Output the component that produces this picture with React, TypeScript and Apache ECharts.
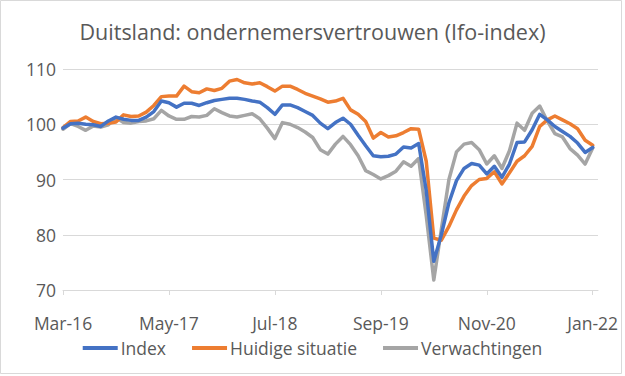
import React, { useEffect, useRef } from "react";
import * as echarts from "echarts";

const months = [
  "Mar-16", "Apr-16", "May-16", "Jun-16", "Jul-16", "Aug-16", "Sep-16", "Oct-16", "Nov-16", "Dec-16",
  "Jan-17", "Feb-17", "Mar-17", "Apr-17", "May-17", "Jun-17", "Jul-17", "Aug-17", "Sep-17", "Oct-17", "Nov-17", "Dec-17",
  "Jan-18", "Feb-18", "Mar-18", "Apr-18", "May-18", "Jun-18", "Jul-18", "Aug-18", "Sep-18", "Oct-18", "Nov-18", "Dec-18",
  "Jan-19", "Feb-19", "Mar-19", "Apr-19", "May-19", "Jun-19", "Jul-19", "Aug-19", "Sep-19", "Oct-19", "Nov-19", "Dec-19",
  "Jan-20", "Feb-20", "Mar-20", "Apr-20", "May-20", "Jun-20", "Jul-20", "Aug-20", "Sep-20", "Oct-20", "Nov-20", "Dec-20",
  "Jan-21", "Feb-21", "Mar-21", "Apr-21", "May-21", "Jun-21", "Jul-21", "Aug-21", "Sep-21", "Oct-21", "Nov-21", "Dec-21",
  "Jan-22",
];

const indexValues = [
  99.3, 100.1, 100.2, 100.0, 99.9, 99.6, 100.6, 101.3, 100.9, 100.7,
  100.7, 101.3, 102.3, 104.2, 103.9, 103.1, 103.8, 103.8, 103.4, 103.9, 104.3, 104.5,
  104.7, 104.7, 104.5, 104.2, 104.0, 103.0, 101.8, 103.5, 103.5, 103.0, 102.3, 101.6,
  100.2, 99.2, 100.3, 101.1, 100.0, 98.0, 96.1, 94.3, 94.1, 94.2, 94.6, 95.9,
  95.7, 96.5, 88.0, 75.2, 80.0, 85.8, 89.8, 92.0, 92.9, 92.6, 91.0, 92.4,
  90.4, 92.8, 96.7, 96.8, 99.0, 101.8, 100.8, 99.6, 98.7, 97.8, 96.6, 94.9,
  95.8,
];

const huidigeValues = [
  99.4, 100.5, 100.6, 101.3, 100.5, 100.1, 100.2, 100.4, 101.7, 101.4,
  101.5, 102.2, 103.4, 105.0, 105.1, 105.1, 106.9, 105.9, 105.7, 106.4, 106.1, 106.5,
  107.8, 108.1, 107.5, 107.3, 107.5, 106.8, 106.0, 106.9, 106.9, 106.3, 105.6, 105.1,
  104.6, 104.0, 104.2, 104.7, 102.6, 101.8, 100.5, 97.5, 98.5, 97.7, 97.9, 98.5,
  99.2, 99.1, 93.3, 79.4, 79.0, 81.5, 84.5, 87.0, 88.9, 90.0, 90.2, 91.4,
  89.2, 91.2, 93.3, 94.3, 96.0, 99.6, 100.8, 101.5, 100.8, 100.1, 99.2, 97.1,
  96.2,
];

const verwachtingenValues = [
  99.1, 100.1, 99.6, 98.9, 99.7, 99.5, 99.9, 101.2, 100.3, 100.2,
  100.5, 100.6, 101.0, 102.5, 101.5, 100.9, 100.9, 101.4, 101.3, 101.6, 102.8, 102.1,
  101.5, 101.3, 101.6, 101.9, 101.0, 99.3, 97.4, 100.3, 100.0, 99.4, 98.6, 97.6,
  95.4, 94.6, 96.4, 97.8, 96.3, 94.3, 91.6, 90.9, 90.1, 90.7, 91.5, 93.2,
  92.4, 93.8, 83.5, 71.8, 81.0, 90.0, 95.0, 96.4, 96.7, 95.4, 92.8, 94.3,
  92.0, 95.2, 100.2, 98.9, 102.0, 103.3, 100.6, 98.3, 97.7, 95.6, 94.4, 92.8,
  95.7,
];

const seriesNames = ["Index", "Huidige situatie", "Verwachtingen"];
const seriesColors = ["#4472C4", "#ED7D31", "#A5A5A5"];
const titleText = "Duitsland: ondernemersvertrouwen (Ifo-index)";
const yTicks = { min: 70, max: 110, interval: 10 };
const labelStep = 14;

const FONT = "'Open Sans', 'Noto Sans', sans-serif";
const TEXT_COLOR = "#595959";
const GRID_COLOR = "#D9D9D9";

export default function App() {
  const ref = useRef<HTMLDivElement>(null);

  useEffect(() => {
    if (!ref.current) return;
    const chart = echarts.init(ref.current, null, { renderer: "svg" });
    const allValues = [indexValues, huidigeValues, verwachtingenValues];
    chart.setOption({
      animation: false,
      backgroundColor: "#FFFFFF",
      title: {
        text: titleText,
        left: "center",
        top: 15,
        textStyle: { fontFamily: FONT, fontSize: 21.5, fontWeight: "normal", color: TEXT_COLOR },
      },
      graphic: [
        {
          type: "rect",
          shape: { x: 0.5, y: 0.5, width: 621, height: 373 },
          style: { fill: "none", stroke: GRID_COLOR, lineWidth: 1 },
          silent: true,
        },
      ],
      legend: {
        bottom: 14,
        left: "center",
        itemGap: 26,
        itemWidth: 35,
        itemHeight: 4,
        icon: "rect",
        textStyle: { fontFamily: FONT, fontSize: 17.5, color: TEXT_COLOR, padding: [0, 0, 0, -2] },
        data: seriesNames,
      },
      grid: { left: 63, right: 27, top: 69, bottom: 86 },
      xAxis: {
        type: "value",
        min: 0,
        max: months.length - 0.3,
        interval: labelStep,
        axisLine: { show: true, lineStyle: { color: GRID_COLOR, width: 1 } },
        axisTick: { show: true, length: 5, lineStyle: { color: GRID_COLOR } },
        splitLine: { show: false },
        axisLabel: {
          fontFamily: FONT,
          fontSize: 17.5,
          color: TEXT_COLOR,
          margin: 24,
          showMaxLabel: false,
          formatter: (v: number) => (Number.isInteger(v) && months[v] ? months[v] : ""),
        },
      },
      yAxis: {
        type: "value",
        min: yTicks.min,
        max: yTicks.max,
        interval: yTicks.interval,
        axisLine: { show: false },
        axisTick: { show: false },
        splitLine: { show: true, lineStyle: { color: GRID_COLOR, width: 1 } },
        axisLabel: { fontFamily: FONT, fontSize: 17.5, color: TEXT_COLOR, margin: 7 },
      },
      series: seriesNames.map((name, s) => ({
        name,
        type: "line",
        data: allValues[s].map((v, i) => [i, v]),
        showSymbol: false,
        symbol: "none",
        lineStyle: { width: 3.5, color: seriesColors[s], join: "round", cap: "round" },
        itemStyle: { color: seriesColors[s] },
        z: 10 - s,
      })),
    });
    return () => chart.dispose();
  }, []);

  return (
    <div
      ref={ref}
      style={{ position: "fixed", left: 0, top: 0, width: 625, height: 376 }}
    />
  );
}
